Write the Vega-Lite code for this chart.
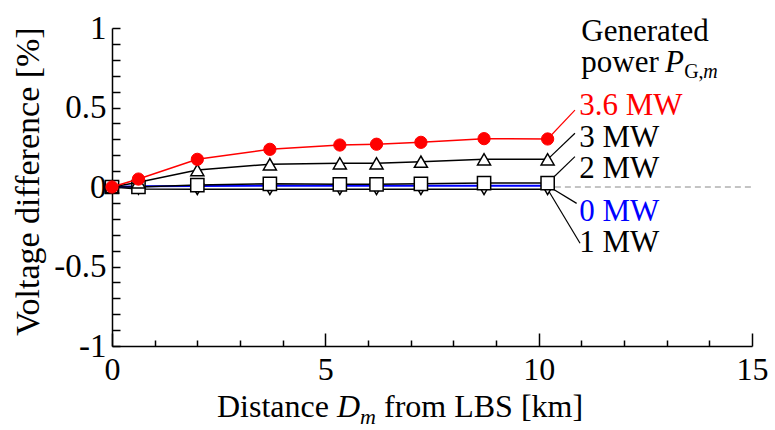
{
  "$schema": "https://vega.github.io/schema/vega-lite/v6.json",
  "width": 640,
  "height": 318,
  "autosize": {"type": "none"},
  "padding": {"left": 112, "top": 28, "right": 23, "bottom": 84},
  "background": "white",
  "config": {"view": {"stroke": null}, "font": "Liberation Serif, DejaVu Serif, serif"},
  "datasets": {
    "series": [
      {"series": "3.6 MW", "x": 0, "y": 0},
      {"series": "3.6 MW", "x": 0.62, "y": 0.05},
      {"series": "3.6 MW", "x": 2.0, "y": 0.174},
      {"series": "3.6 MW", "x": 3.7, "y": 0.237},
      {"series": "3.6 MW", "x": 5.34, "y": 0.264},
      {"series": "3.6 MW", "x": 6.2, "y": 0.269},
      {"series": "3.6 MW", "x": 7.24, "y": 0.281},
      {"series": "3.6 MW", "x": 8.72, "y": 0.304},
      {"series": "3.6 MW", "x": 10.21, "y": 0.302},
      {"series": "3 MW", "x": 0, "y": 0},
      {"series": "3 MW", "x": 0.62, "y": 0.03},
      {"series": "3 MW", "x": 2.0, "y": 0.107},
      {"series": "3 MW", "x": 3.7, "y": 0.143},
      {"series": "3 MW", "x": 5.34, "y": 0.149},
      {"series": "3 MW", "x": 6.2, "y": 0.149},
      {"series": "3 MW", "x": 7.24, "y": 0.159},
      {"series": "3 MW", "x": 8.72, "y": 0.174},
      {"series": "3 MW", "x": 10.21, "y": 0.174},
      {"series": "2 MW", "x": 0, "y": 0},
      {"series": "2 MW", "x": 0.62, "y": 0.0},
      {"series": "2 MW", "x": 2.0, "y": 0.012},
      {"series": "2 MW", "x": 3.7, "y": 0.02},
      {"series": "2 MW", "x": 5.34, "y": 0.017},
      {"series": "2 MW", "x": 6.2, "y": 0.017},
      {"series": "2 MW", "x": 7.24, "y": 0.02},
      {"series": "2 MW", "x": 8.72, "y": 0.025},
      {"series": "2 MW", "x": 10.21, "y": 0.025},
      {"series": "0 MW", "x": 0, "y": 0},
      {"series": "0 MW", "x": 0.62, "y": 0.004},
      {"series": "0 MW", "x": 2.0, "y": 0.007},
      {"series": "0 MW", "x": 3.7, "y": 0.008},
      {"series": "0 MW", "x": 5.34, "y": 0.008},
      {"series": "0 MW", "x": 6.2, "y": 0.008},
      {"series": "0 MW", "x": 7.24, "y": 0.008},
      {"series": "0 MW", "x": 8.72, "y": 0.008},
      {"series": "0 MW", "x": 10.21, "y": 0.008},
      {"series": "1 MW", "x": 0, "y": 0},
      {"series": "1 MW", "x": 0.62, "y": -0.012},
      {"series": "1 MW", "x": 2.0, "y": -0.014},
      {"series": "1 MW", "x": 3.7, "y": -0.014},
      {"series": "1 MW", "x": 5.34, "y": -0.014},
      {"series": "1 MW", "x": 6.2, "y": -0.014},
      {"series": "1 MW", "x": 7.24, "y": -0.014},
      {"series": "1 MW", "x": 8.72, "y": -0.014},
      {"series": "1 MW", "x": 10.21, "y": -0.014}
    ],
    "leaders": [
      {"series": "3.6 MW", "x": 10.21, "y": 0.302, "x2": 10.85, "y2": 0.484},
      {"series": "3 MW", "x": 10.21, "y": 0.174, "x2": 10.85, "y2": 0.338},
      {"series": "2 MW", "x": 10.21, "y": 0.025, "x2": 10.85, "y2": 0.191},
      {"series": "0 MW", "x": 10.21, "y": 0.008, "x2": 10.89, "y2": -0.103},
      {"series": "1 MW", "x": 10.21, "y": -0.014, "x2": 10.97, "y2": -0.354}
    ],
    "zeroLine": [{"x": 10.38, "x2": 15, "y": 0}],
    "legendLabels": [
      {"series": "3.6 MW", "x": 10.95, "y": 0.453},
      {"series": "3 MW", "x": 10.95, "y": 0.254},
      {"series": "2 MW", "x": 10.95, "y": 0.055},
      {"series": "0 MW", "x": 10.95, "y": -0.212},
      {"series": "1 MW", "x": 10.95, "y": -0.407}
    ],
    "headerText": [
      {"text": "Generated", "x": 11.0, "y": 0.918},
      {"text": "power", "x": 11.0, "y": 0.723}
    ],
    "headerVar": [{"text": "P", "x": 12.96, "y": 0.723}],
    "headerSub": [{"text": "G,", "x": 13.41, "y": 0.686}],
    "headerSubVar": [{"text": "m", "x": 13.86, "y": 0.686}],
    "xTitleText": [
      {"text": "Distance", "x": 2.461, "y": -1.447},
      {"text": "from LBS [km]", "x": 6.375, "y": -1.447}
    ],
    "xTitleVar": [{"text": "D", "x": 5.273, "y": -1.447}],
    "xTitleSub": [{"text": "m", "x": 5.81, "y": -1.491}]
  },
  "encoding": {
    "x": {
      "field": "x",
      "type": "quantitative",
      "scale": {"domain": [0, 15], "nice": false, "zero": false},
      "axis": {
        "title": null,
        "values": [0, 1, 2, 3, 4, 5, 6, 7, 8, 9, 10, 11, 12, 13, 14, 15],
        "labelExpr": "datum.value % 5 === 0 ? datum.label : ''",
        "tickSize": {"condition": {"test": "datum.value % 5 === 0", "value": -13}, "value": -6},
        "labelPadding": 21,
        "labelFont": "Liberation Serif, DejaVu Serif, serif",
        "labelFontSize": 32,
        "labelColor": "black",
        "labelFlush": false,
        "labelOverlap": false,
        "domainColor": "black",
        "domainWidth": 1.5,
        "tickColor": "black",
        "tickWidth": 1.5,
        "grid": false
      }
    },
    "y": {
      "field": "y",
      "type": "quantitative",
      "scale": {"domain": [-1, 1], "nice": false, "zero": false},
      "axis": {
        "title": "Voltage difference [%]",
        "values": [-1, -0.9, -0.8, -0.7, -0.6, -0.5, -0.4, -0.3, -0.2, -0.1, 0, 0.1, 0.2, 0.3, 0.4, 0.5, 0.6, 0.7, 0.8, 0.9, 1],
        "labelExpr": "round(datum.value * 10) % 5 === 0 ? toString(datum.value) : ''",
        "tickSize": -8,
        "labelPadding": 14,
        "labelFont": "Liberation Serif, DejaVu Serif, serif",
        "labelFontSize": 33,
        "labelColor": "black",
        "labelFlush": false,
        "labelOverlap": false,
        "domainColor": "black",
        "domainWidth": 1.5,
        "tickColor": "black",
        "tickWidth": 1.5,
        "grid": false,
        "titleFont": "Liberation Serif, DejaVu Serif, serif",
        "titleFontSize": 34,
        "titleFontWeight": "normal",
        "titleColor": "black",
        "titleX": -84,
        "titleY": 153,
        "titleAngle": -90,
        "titleAlign": "center",
        "titleBaseline": "middle"
      }
    }
  },
  "layer": [
    {
      "data": {"name": "zeroLine"},
      "mark": {"type": "rule", "stroke": "#888888", "strokeDash": [6, 4], "strokeWidth": 1},
      "encoding": {"x2": {"field": "x2"}}
    },
    {
      "data": {"name": "leaders"},
      "mark": {"type": "rule", "strokeWidth": 1.2},
      "encoding": {
        "x2": {"field": "x2"},
        "y2": {"field": "y2"},
        "stroke": {
          "field": "series",
          "type": "nominal",
          "scale": {"domain": ["3.6 MW", "3 MW", "2 MW", "0 MW", "1 MW"], "range": ["#ff0000", "#000000", "#000000", "#000000", "#000000"]},
          "legend": null
        }
      }
    },
    {
      "data": {"name": "series"},
      "transform": [{"filter": "datum.series === '1 MW'"}],
      "mark": {"type": "line", "color": "black", "strokeWidth": 1.5,
        "point": {"shape": "triangle-down", "size": 150, "filled": true, "fill": "white", "stroke": "black", "strokeWidth": 1.5}}
    },
    {
      "data": {"name": "series"},
      "transform": [{"filter": "datum.series === '0 MW'"}],
      "mark": {"type": "line", "color": "#0000ff", "strokeWidth": 2}
    },
    {
      "data": {"name": "series"},
      "transform": [{"filter": "datum.series === '2 MW'"}],
      "mark": {"type": "line", "color": "black", "strokeWidth": 1.5,
        "point": {"shape": "square", "size": 175, "filled": true, "fill": "white", "stroke": "black", "strokeWidth": 1.5}}
    },
    {
      "data": {"name": "series"},
      "transform": [{"filter": "datum.series === '3 MW'"}],
      "mark": {"type": "line", "color": "black", "strokeWidth": 1.5,
        "point": {"shape": "triangle-up", "size": 170, "filled": true, "fill": "white", "stroke": "black", "strokeWidth": 1.5}}
    },
    {
      "data": {"name": "series"},
      "transform": [{"filter": "datum.series === '3.6 MW'"}],
      "mark": {"type": "line", "color": "#ff0000", "strokeWidth": 1.5,
        "point": {"shape": "circle", "size": 150, "filled": true, "fill": "#ff0000", "stroke": "#ff0000", "strokeWidth": 1}}
    },
    {
      "data": {"name": "legendLabels"},
      "mark": {"type": "text", "align": "left", "baseline": "alphabetic", "font": "Liberation Serif, DejaVu Serif, serif", "fontSize": 31},
      "encoding": {
        "text": {"field": "series"},
        "color": {
          "field": "series",
          "type": "nominal",
          "scale": {"domain": ["3.6 MW", "3 MW", "2 MW", "0 MW", "1 MW"], "range": ["#ff0000", "#000000", "#000000", "#0000ff", "#000000"]},
          "legend": null
        }
      }
    },
    {
      "data": {"name": "headerText"},
      "mark": {"type": "text", "align": "left", "baseline": "alphabetic", "font": "Liberation Serif, DejaVu Serif, serif", "fontSize": 31, "color": "black"},
      "encoding": {"text": {"field": "text"}}
    },
    {
      "data": {"name": "headerVar"},
      "mark": {"type": "text", "align": "left", "baseline": "alphabetic", "font": "Liberation Serif, DejaVu Serif, serif", "fontSize": 31, "fontStyle": "italic", "color": "black"},
      "encoding": {"text": {"field": "text"}}
    },
    {
      "data": {"name": "headerSub"},
      "mark": {"type": "text", "align": "left", "baseline": "alphabetic", "font": "Liberation Serif, DejaVu Serif, serif", "fontSize": 20, "color": "black"},
      "encoding": {"text": {"field": "text"}}
    },
    {
      "data": {"name": "headerSubVar"},
      "mark": {"type": "text", "align": "left", "baseline": "alphabetic", "font": "Liberation Serif, DejaVu Serif, serif", "fontSize": 20, "fontStyle": "italic", "color": "black"},
      "encoding": {"text": {"field": "text"}}
    },
    {
      "data": {"name": "xTitleText"},
      "mark": {"type": "text", "align": "left", "baseline": "alphabetic", "font": "Liberation Serif, DejaVu Serif, serif", "fontSize": 32, "color": "black"},
      "encoding": {"text": {"field": "text"}}
    },
    {
      "data": {"name": "xTitleVar"},
      "mark": {"type": "text", "align": "left", "baseline": "alphabetic", "font": "Liberation Serif, DejaVu Serif, serif", "fontSize": 32, "fontStyle": "italic", "color": "black"},
      "encoding": {"text": {"field": "text"}}
    },
    {
      "data": {"name": "xTitleSub"},
      "mark": {"type": "text", "align": "left", "baseline": "alphabetic", "font": "Liberation Serif, DejaVu Serif, serif", "fontSize": 22, "fontStyle": "italic", "color": "black"},
      "encoding": {"text": {"field": "text"}}
    }
  ]
}
